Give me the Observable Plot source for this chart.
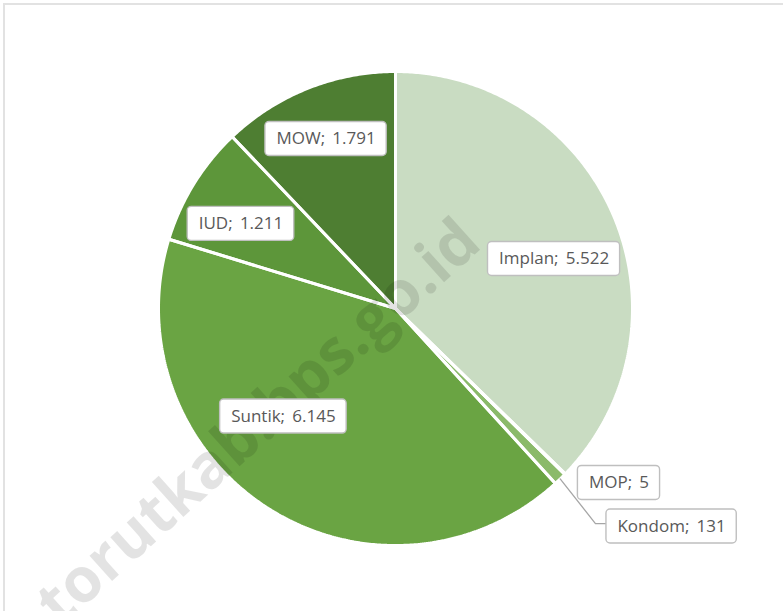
<!DOCTYPE html>
<html><head><meta charset="utf-8">
<script src="https://cdn.jsdelivr.net/npm/d3@7"></script>
<script src="https://cdn.jsdelivr.net/npm/@observablehq/plot@0.6"></script>
<style>
body{margin:0;background:#fff;}
#wrap{position:relative;width:783px;height:611px;overflow:hidden;background:#fff;}
#frame{position:absolute;left:3px;top:3px;width:900px;height:800px;border-top:2px solid #e2e2e2;border-left:2px solid #e2e2e2;pointer-events:none;}
</style></head><body>
<div id="wrap"><div id="chart"></div><div id="frame"></div></div>
<script>
// ---- data ----
const categories = ["Implan", "MOP", "Kondom", "Suntik", "IUD", "MOW"];
const values = [5522, 5, 131, 6145, 1211, 1791];
const sliceColors = ["#c9dcc2", "#a9cb8e", "#8bba6a", "#6aa443", "#5d963a", "#4e7e32"];
// label anchor positions in pie units (center = 0,0; radius = 1)
const labelX = [0.669, 0.943, 1.165, -0.473, -0.652, -0.293];
const labelY = [-0.209, 0.736, 0.920, 0.456, -0.357, -0.715];
const leaderFor = "Kondom";
const watermarkText = "torutkab.bps.go.id";

// ---- layout ----
const W = 783, H = 611, CX = 395, CY = 308, R = 237;
const FONT = "'Open Sans', 'Noto Sans', sans-serif";
const FS = 17;

const fmt = d3.formatLocale({decimal: ",", thousands: ".", grouping: [3], currency: ["Rp", ""]}).format(",d");

const arcs = d3.pie().sort(null).startAngle(0).endAngle(2 * Math.PI)(values);
const poly = [];
arcs.forEach((a, i) => {
  const name = categories[i];
  poly.push({name, x: 0, y: 0});
  const n = Math.max(2, Math.ceil((a.endAngle - a.startAngle) / (Math.PI / 360)));
  for (let k = 0; k <= n; k++) {
    const t = a.startAngle + (a.endAngle - a.startAngle) * k / n;
    poly.push({name, x: Math.sin(t), y: -Math.cos(t)});
  }
  poly.push({name, x: 0, y: 0});
});

const ctx = document.createElement("canvas").getContext("2d");
ctx.font = `${FS}px ${FONT}`;
const labels = categories.map((c, i) => {
  const text = `${c};\u2009 ${fmt(values[i])}`;
  const w = ctx.measureText(text).width + 22;
  return {name: c, text, x: labelX[i], y: labelY[i], hw: w / 2 / R, hh: 17 / R};
});

// leader line for the small slice
const li = categories.indexOf(leaderFor);
const la = arcs[li], mid = (la.startAngle + la.endAngle) / 2;
const lab = labels[li];
const leader = [
  {x: Math.sin(mid), y: -Math.cos(mid)},
  {x: lab.x - lab.hw - 11 / R, y: lab.y - 3 / R},
  {x: lab.x - lab.hw, y: lab.y - 3 / R}
];

const chart = Plot.plot({
  width: W, height: H, margin: 0,
  style: {fontFamily: FONT, background: "white"},
  x: {domain: [-1, 1], range: [CX - R, CX + R], axis: null},
  y: {domain: [-1, 1], range: [CY - R, CY + R], axis: null},
  color: {domain: categories, range: sliceColors},
  marks: [
    Plot.line(poly, {x: "x", y: "y", z: "name", fill: "name", stroke: "none"}),
    Plot.line(poly, {x: "x", y: "y", z: "name", stroke: "white", strokeWidth: 3, fill: "none", strokeLinejoin: "miter"}),
    Plot.text([{x: -0.578, y: 0.481, t: watermarkText}], {
      x: "x", y: "y", text: "t", rotate: -42, fontSize: 62, fontWeight: "bold",
      fill: "black", fillOpacity: 0.11, fontFamily: FONT
    }),
    Plot.line(leader, {x: "x", y: "y", stroke: "#a6a6a6", strokeWidth: 1.3}),
    Plot.rect(labels, {
      x1: d => d.x - d.hw, x2: d => d.x + d.hw, y1: d => d.y - d.hh, y2: d => d.y + d.hh,
      fill: "white", stroke: "#bfbfbf", strokeWidth: 1.4, rx: 4
    }),
    Plot.text(labels, {x: "x", y: "y", text: "text", fontSize: FS, fill: "#595959", fontFamily: FONT})
  ]
});
document.getElementById("chart").appendChild(chart);
</script>
</body></html>
